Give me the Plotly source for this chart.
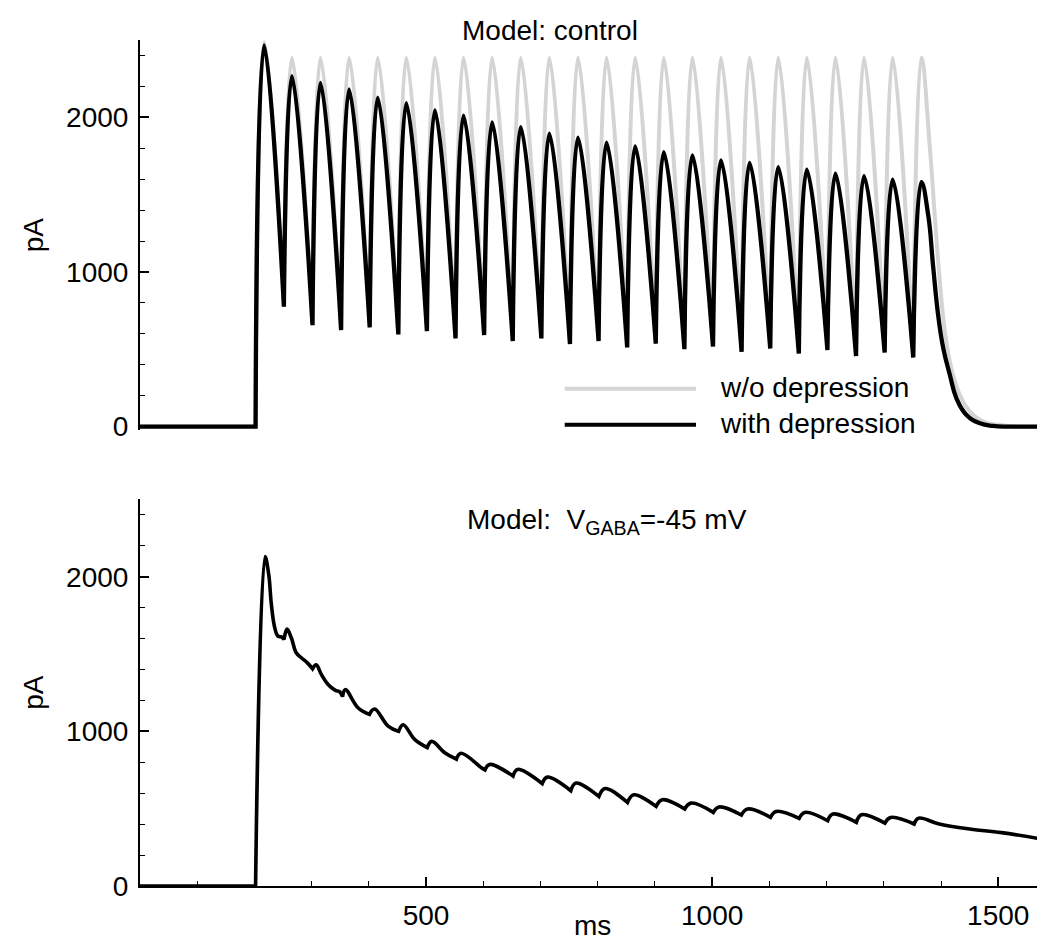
import plotly.graph_objects as go

# ---------------- data ----------------
# Top panel: model "control" (ms, pA)
onset_top = 202.0
first_peak_t = 217.0
first_peak_dep = 2465
first_peak_nodep = 2485

trough_t_top = [251.5, 301.5, 351.5, 401.5, 451.5, 501.5, 551.5, 601.5, 651.5, 701.5,
                751.5, 801.5, 851.5, 901.5, 951.5, 1001.5, 1051.5, 1101.5, 1151.5,
                1201.5, 1251.5, 1301.5, 1351.5]
trough_v_top = [775, 656, 624, 641, 596, 617, 570, 592, 553, 570, 534, 553, 512, 536,
                501, 518, 484, 505, 473, 495, 456, 479, 447]
peak_t_top = [265.5, 315.5, 365.5, 415.5, 465.5, 515.5, 565.5, 615.5, 665.5, 715.5,
              765.5, 815.5, 865.5, 915.5, 965.5, 1015.5, 1065.5, 1115.5, 1165.5,
              1215.5, 1265.5, 1315.5, 1365.5]
peak_v_dep = [2266, 2223, 2180, 2127, 2092, 2045, 2010, 1967, 1937, 1894, 1868, 1836,
              1812, 1775, 1754, 1721, 1706, 1678, 1661, 1635, 1620, 1597, 1581]
peak_v_nodep = [2385, 2385, 2385, 2385, 2385, 2385, 2385, 2385, 2385, 2385, 2385, 2385,
                2385, 2385, 2385, 2385, 2385, 2385, 2385, 2385, 2385, 2385, 2385]

tail_t_dep = [1377.6, 1386, 1395, 1404, 1415.5, 1427, 1444.6, 1468, 1491, 1520, 1580]
tail_v_dep = [1368, 1045, 721, 506, 334, 183, 75, 21, 4, 0, 0]
tail_t_nodep = [1380.6, 1389, 1398, 1406.8, 1418, 1433, 1450.5, 1474, 1503, 1530, 1580]
tail_v_nodep = [1799, 1368, 937, 614, 377, 204, 97, 32, 10, 0, 0]

# Bottom panel: model V_GABA = -45 mV
onset_bot = 202.0
peak_bot_t = 218.5
peak_bot_v = 2130
notch_t = [251.7, 301.5, 354, 401, 452, 502, 553, 603, 652, 703, 753, 802, 852, 902,
           952, 1002, 1051, 1102, 1152, 1202, 1252, 1302, 1353]
notch_v = [1595, 1405, 1225, 1110, 1000, 895, 820, 751, 711, 662, 616, 579, 540, 515,
           498, 476, 459, 444, 437, 422, 411, 407, 401]
bump_t = [257, 308, 359, 410, 460, 510, 561, 611, 660, 712, 762, 813, 863, 913, 963,
          1012, 1062, 1112, 1162, 1211, 1261, 1312, 1361]
bump_v = [1661, 1430, 1270, 1145, 1043, 935, 858, 786, 754, 704, 666, 630, 590, 558,
          536, 511, 498, 482, 476, 465, 461, 443, 439]
# extra points read on the decays of the first cycles (index = cycle before notch)
decay_pts_t = {0: [225, 229.6, 235.5, 241, 247], 1: [264.5, 273, 282, 292.5],
               2: [317, 328.7, 341.5, 349], 3: [381], 4: [433.6], 5: [480],
               6: [532.6], 7: [596.7]}
decay_pts_v = {0: [2014, 1820, 1670, 1616, 1611], 1: [1605, 1508, 1476, 1443],
               2: [1368, 1303, 1265, 1256], 3: [1153], 4: [1034], 5: [948],
               6: [862], 7: [765]}
tail_t_bot = [1395, 1447, 1506, 1580]
tail_v_bot = [403, 370, 345, 301]

x_ticks = [500, 1000, 1500]
x_ticktext = ["500", "1000", "1500"]
y_ticks = [0, 1000, 2000]
y_ticktext = ["0", "1000", "2000"]

# ---------------- assemble traces ----------------
def top_trace(first_peak, peaks, tail_t, tail_v):
    xs = [0, onset_top, onset_top, first_peak_t]
    ys = [0, 0, 0, first_peak]
    for tt, tv, pt, pv in zip(trough_t_top, trough_v_top, peak_t_top, peaks):
        xs += [tt, tt, pt]
        ys += [tv, tv, pv]
    xs += tail_t
    ys += tail_v
    return xs, ys

xg, yg = top_trace(first_peak_nodep, peak_v_nodep, tail_t_nodep, tail_v_nodep)
xb, yb = top_trace(first_peak_dep, peak_v_dep, tail_t_dep, tail_v_dep)

xbot = [0, onset_bot, onset_bot, peak_bot_t]
ybot = [0, 0, 0, peak_bot_v]
for i, (nt, nv, bt, bv) in enumerate(zip(notch_t, notch_v, bump_t, bump_v)):
    xbot += decay_pts_t.get(i, [])
    ybot += decay_pts_v.get(i, [])
    xbot += [nt, nt, bt]
    ybot += [nv, nv, bv]
xbot += tail_t_bot
ybot += tail_v_bot

FONT = "Liberation Sans, Arial, Helvetica, sans-serif"
FS = 28
GRAY = "#d4d4d4"

fig = go.Figure()
fig.add_trace(go.Scatter(x=xg, y=yg, mode="lines", name="w/o depression",
                         line=dict(color=GRAY, width=4, shape="spline", smoothing=1.3,
                                   simplify=False),
                         xaxis="x", yaxis="y", showlegend=False))
fig.add_trace(go.Scatter(x=xb, y=yb, mode="lines", name="with depression",
                         line=dict(color="black", width=4.3, shape="spline", smoothing=1.3,
                                   simplify=False),
                         xaxis="x", yaxis="y", showlegend=False))
fig.add_trace(go.Scatter(x=xbot, y=ybot, mode="lines", name="V_GABA=-45 mV",
                         line=dict(color="black", width=3.6, shape="spline", smoothing=1.1,
                                   simplify=False),
                         xaxis="x2", yaxis="y2", showlegend=False))

H = 940
top_px, bot_px = 32, 878
plot_h = bot_px - top_px
unit = 386.6 / 2500.0
top_zero = top_px + 386.6
top_dom0 = (bot_px - (top_zero + 25 * unit)) / plot_h
bot_dom1 = (bot_px - (bot_px - 386.6)) / plot_h

def px2paper_y(py):
    return (bot_px - py) / plot_h

def px2paper_x(px):
    return (px - 132) / 904.0

yaxis_common = dict(
    showline=True, linecolor="black", linewidth=2, ticks="inside", ticklen=9,
    tickwidth=1.5, tickcolor="black", tickmode="array", tickvals=y_ticks,
    ticktext=y_ticktext, showgrid=False, zeroline=False,
    tickfont=dict(family=FONT, size=FS, color="black"),
    ticklabelstandoff=4,
    minor=dict(tickmode="linear", tick0=0, dtick=200, ticks="inside", ticklen=5,
               tickwidth=1, tickcolor="black", showgrid=False),
    title=dict(text="pA", font=dict(family=FONT, size=FS, color="black"), standoff=14),
)

fig.update_layout(
    width=1045, height=H,
    margin=dict(l=132, r=9, t=top_px, b=H - bot_px),
    paper_bgcolor="white", plot_bgcolor="white",
    font=dict(family=FONT, size=FS, color="black"),
    xaxis=dict(domain=[0, 1], range=[0, 1580], anchor="y", showline=False,
               showticklabels=False, ticks="", showgrid=False, zeroline=False),
    yaxis=dict(domain=[top_dom0, 1], range=[-25, 2500], anchor="x", **yaxis_common),
    xaxis2=dict(domain=[0, 1], range=[0, 1580], anchor="y2", showline=True,
                linecolor="black", linewidth=2, ticks="inside", ticklen=9,
                tickwidth=1.5, tickcolor="black", tickmode="array",
                tickvals=x_ticks, ticktext=x_ticktext, showgrid=False, zeroline=False,
                tickfont=dict(family=FONT, size=FS, color="black"),
                ticklabelstandoff=3,
                minor=dict(tickmode="linear", tick0=0, dtick=100, ticks="inside",
                           ticklen=5, tickwidth=1, tickcolor="black", showgrid=False)),
    yaxis2=dict(domain=[0, bot_dom1], range=[0, 2500], anchor="x2", **yaxis_common),
    showlegend=False,
)

# x-axis title of the bottom panel
fig.add_annotation(text="ms", xref="paper", yref="paper", x=0.5,
                   y=px2paper_y(935), xanchor="center", yanchor="bottom",
                   showarrow=False, font=dict(family=FONT, size=FS, color="black"))

fig.add_annotation(text="Model: control", xref="paper", yref="paper",
                   x=px2paper_x(542), y=px2paper_y(23), xanchor="center",
                   yanchor="middle", showarrow=False,
                   font=dict(family=FONT, size=FS, color="black"))
fig.add_annotation(text="Model:\u00a0\u00a0V<sub>GABA</sub>=-45 mV", xref="paper",
                   yref="paper", x=px2paper_x(599), y=px2paper_y(513),
                   xanchor="center", yanchor="middle", showarrow=False,
                   font=dict(family=FONT, size=FS, color="black"))

# legend (drawn as layout decoration)
for py, col, label in [(380.7, GRAY, "w/o depression"), (416.7, "black", "with depression")]:
    fig.add_shape(type="line", xref="paper", yref="paper",
                  x0=px2paper_x(556.7), x1=px2paper_x(688), y0=px2paper_y(py),
                  y1=px2paper_y(py), line=dict(color=col, width=4))
    fig.add_annotation(text=label, xref="paper", yref="paper", x=px2paper_x(710),
                       y=px2paper_y(py - 1), xanchor="left", yanchor="middle",
                       showarrow=False, font=dict(family=FONT, size=FS, color="black"))

fig.write_html("out.html")
